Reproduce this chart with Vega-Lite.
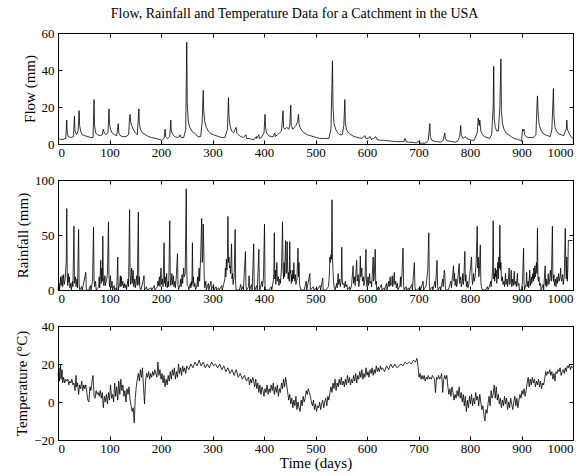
{
"$schema": "https://vega.github.io/schema/vega-lite/v6.json",
"autosize": {"type": "pad"},
"padding": {"left": 14, "top": 6, "right": 14, "bottom": 5},
"background": "white",
"bounds": "flush",
"spacing": 36,
"title": {"text": "Flow, Rainfall and Temperature Data for a Catchment in the USA", "font": "Liberation Serif", "fontSize": 14, "fontWeight": "normal", "color": "black", "anchor": "middle", "offset": 6},
"config": {
  "view": {"stroke": "black", "strokeWidth": 1},
  "axis": {"grid": false, "domainColor": "black", "domainWidth": 1, "tickColor": "black", "tickSize": -4, "labelPadding": 8, "labelFont": "Liberation Serif", "labelFontSize": 13, "labelColor": "black", "titleFont": "Liberation Serif", "titleFontSize": 15, "titleFontWeight": "normal", "titleColor": "black", "format": "d"}
},
"datasets": {
"flow": [
{"d":0,"v":3},{"d":5,"v":2.5},{"d":10,"v":2.5},{"d":15,"v":3},{"d":17,"v":13},{"d":18,"v":6},{"d":20,"v":4},{"d":25,"v":3.5},{"d":30,"v":4},{"d":32,"v":15},{"d":33,"v":7},{"d":36,"v":5},{"d":39,"v":7},{"d":41,"v":18},{"d":42,"v":10},{"d":44,"v":7},{"d":47,"v":5},{"d":52,"v":4.5},{"d":58,"v":4},{"d":63,"v":3.5},{"d":68,"v":3.5},{"d":70,"v":24},{"d":71,"v":10},{"d":73,"v":6},{"d":77,"v":5},{"d":82,"v":4.5},{"d":86,"v":5},{"d":88,"v":8},{"d":90,"v":6},{"d":93,"v":5},{"d":97,"v":6},{"d":99,"v":19},{"d":100,"v":11},{"d":102,"v":8},{"d":105,"v":6},{"d":110,"v":5},{"d":114,"v":4.5},{"d":117,"v":11},{"d":118,"v":6},{"d":121,"v":4.5},{"d":126,"v":4},{"d":132,"v":4},{"d":137,"v":5},{"d":139,"v":14},{"d":140,"v":16},{"d":141,"v":12},{"d":143,"v":10},{"d":146,"v":8},{"d":150,"v":6},{"d":154,"v":5},{"d":157,"v":19},{"d":158,"v":11},{"d":160,"v":8},{"d":164,"v":6},{"d":170,"v":5},{"d":176,"v":4},{"d":182,"v":3.5},{"d":190,"v":3},{"d":196,"v":2.5},{"d":202,"v":2},{"d":206,"v":3},{"d":208,"v":8},{"d":209,"v":4},{"d":213,"v":3},{"d":217,"v":4},{"d":219,"v":13},{"d":220,"v":7},{"d":223,"v":5},{"d":227,"v":4},{"d":232,"v":3.5},{"d":236,"v":4},{"d":237,"v":5},{"d":239,"v":3.5},{"d":244,"v":3.5},{"d":248,"v":8},{"d":250,"v":55},{"d":251,"v":22},{"d":253,"v":12},{"d":256,"v":9},{"d":260,"v":7},{"d":263,"v":6},{"d":265,"v":6},{"d":268,"v":5},{"d":272,"v":4},{"d":277,"v":4},{"d":280,"v":12},{"d":282,"v":29},{"d":283,"v":18},{"d":285,"v":12},{"d":288,"v":9},{"d":292,"v":7},{"d":297,"v":5.5},{"d":302,"v":5},{"d":307,"v":4.5},{"d":312,"v":4},{"d":318,"v":3.5},{"d":324,"v":3.5},{"d":329,"v":8},{"d":331,"v":25},{"d":332,"v":15},{"d":334,"v":10},{"d":337,"v":7},{"d":341,"v":6},{"d":346,"v":9},{"d":347,"v":6},{"d":350,"v":5},{"d":355,"v":4},{"d":360,"v":3.5},{"d":365,"v":5},{"d":366,"v":3},{"d":371,"v":3},{"d":376,"v":2.5},{"d":381,"v":2.5},{"d":385,"v":4},{"d":386,"v":3},{"d":390,"v":5},{"d":391,"v":3},{"d":395,"v":3.5},{"d":400,"v":6},{"d":402,"v":16},{"d":403,"v":9},{"d":405,"v":6},{"d":409,"v":4.5},{"d":414,"v":4},{"d":418,"v":4},{"d":421,"v":6},{"d":422,"v":4},{"d":426,"v":5},{"d":430,"v":6},{"d":434,"v":7},{"d":437,"v":18},{"d":438,"v":9},{"d":440,"v":8},{"d":444,"v":9},{"d":448,"v":8},{"d":450,"v":10},{"d":452,"v":21},{"d":453,"v":10},{"d":456,"v":8},{"d":459,"v":9},{"d":462,"v":10},{"d":465,"v":12},{"d":467,"v":16},{"d":468,"v":11},{"d":470,"v":9},{"d":474,"v":7},{"d":478,"v":6},{"d":484,"v":5},{"d":490,"v":4.5},{"d":496,"v":4},{"d":502,"v":3.5},{"d":508,"v":3},{"d":514,"v":3},{"d":520,"v":3},{"d":526,"v":3},{"d":530,"v":8},{"d":533,"v":45},{"d":534,"v":20},{"d":536,"v":11},{"d":539,"v":8},{"d":543,"v":6},{"d":547,"v":5},{"d":552,"v":5},{"d":555,"v":10},{"d":557,"v":24},{"d":558,"v":12},{"d":560,"v":8},{"d":564,"v":6},{"d":569,"v":5},{"d":575,"v":4},{"d":582,"v":3.5},{"d":590,"v":3},{"d":594,"v":4},{"d":596,"v":4.5},{"d":598,"v":3},{"d":602,"v":3},{"d":606,"v":4},{"d":608,"v":2.5},{"d":613,"v":3},{"d":617,"v":4},{"d":619,"v":2.5},{"d":625,"v":2},{"d":632,"v":2},{"d":640,"v":1.8},{"d":648,"v":1.5},{"d":656,"v":1.3},{"d":664,"v":1.2},{"d":672,"v":1.5},{"d":674,"v":3},{"d":676,"v":1.2},{"d":682,"v":1},{"d":690,"v":0.8},{"d":696,"v":0.6},{"d":700,"v":1.5},{"d":702,"v":0.5},{"d":708,"v":0.4},{"d":714,"v":0.5},{"d":719,"v":2},{"d":722,"v":11},{"d":723,"v":4},{"d":726,"v":2},{"d":731,"v":1.5},{"d":737,"v":1.2},{"d":743,"v":1},{"d":748,"v":2},{"d":751,"v":6},{"d":752,"v":3},{"d":755,"v":1.8},{"d":760,"v":1.5},{"d":766,"v":1.2},{"d":771,"v":1},{"d":776,"v":1.5},{"d":780,"v":4},{"d":782,"v":10},{"d":783,"v":5},{"d":786,"v":3},{"d":789,"v":3.5},{"d":791,"v":4},{"d":794,"v":3},{"d":798,"v":2.5},{"d":803,"v":2},{"d":808,"v":2},{"d":814,"v":6},{"d":816,"v":14},{"d":818,"v":10},{"d":819,"v":13},{"d":821,"v":7},{"d":824,"v":5},{"d":828,"v":4},{"d":833,"v":3.5},{"d":838,"v":3},{"d":842,"v":5},{"d":845,"v":20},{"d":846,"v":42},{"d":847,"v":14},{"d":849,"v":9},{"d":852,"v":7},{"d":855,"v":7},{"d":858,"v":20},{"d":860,"v":46},{"d":861,"v":18},{"d":863,"v":11},{"d":866,"v":8},{"d":870,"v":6},{"d":875,"v":5},{"d":880,"v":4},{"d":886,"v":3},{"d":892,"v":2.5},{"d":898,"v":2},{"d":900,"v":1.5},{"d":902,"v":8},{"d":903,"v":7},{"d":905,"v":8},{"d":906,"v":5},{"d":909,"v":4},{"d":913,"v":3.5},{"d":918,"v":3.5},{"d":923,"v":3.5},{"d":928,"v":5},{"d":930,"v":20},{"d":931,"v":26},{"d":932,"v":18},{"d":934,"v":11},{"d":937,"v":8},{"d":941,"v":6},{"d":946,"v":5},{"d":951,"v":4.5},{"d":956,"v":4},{"d":959,"v":8},{"d":962,"v":30},{"d":963,"v":15},{"d":965,"v":9},{"d":968,"v":7},{"d":972,"v":5.5},{"d":977,"v":5},{"d":982,"v":4.5},{"d":985,"v":7},{"d":987,"v":8},{"d":988,"v":13},{"d":989,"v":8},{"d":992,"v":6},{"d":996,"v":4},{"d":1000,"v":3}
],
"rain": [
{"d":0,"v":0},{"d":2,"v":6},{"d":3,"v":0},{"d":5,"v":12},{"d":6,"v":4},{"d":8,"v":13},{"d":9,"v":3},{"d":11,"v":14},{"d":12,"v":5},{"d":14,"v":10},{"d":16,"v":26},{"d":17,"v":74},{"d":18,"v":12},{"d":19,"v":4},{"d":20,"v":15},{"d":21,"v":7},{"d":22,"v":12},{"d":23,"v":2},{"d":25,"v":6},{"d":26,"v":0},{"d":28,"v":8},{"d":29,"v":3},{"d":31,"v":58},{"d":32,"v":6},{"d":34,"v":12},{"d":35,"v":3},{"d":37,"v":10},{"d":38,"v":2},{"d":40,"v":55},{"d":41,"v":6},{"d":42,"v":0},{"d":46,"v":3},{"d":47,"v":0},{"d":54,"v":16},{"d":55,"v":0},{"d":60,"v":0},{"d":63,"v":4},{"d":64,"v":0},{"d":67,"v":8},{"d":69,"v":57},{"d":70,"v":10},{"d":71,"v":3},{"d":73,"v":8},{"d":74,"v":0},{"d":79,"v":3},{"d":80,"v":12},{"d":81,"v":2},{"d":83,"v":27},{"d":84,"v":6},{"d":85,"v":20},{"d":86,"v":8},{"d":87,"v":49},{"d":88,"v":12},{"d":89,"v":4},{"d":91,"v":13},{"d":92,"v":4},{"d":94,"v":9},{"d":96,"v":14},{"d":98,"v":62},{"d":99,"v":12},{"d":100,"v":3},{"d":102,"v":13},{"d":103,"v":2},{"d":105,"v":8},{"d":106,"v":0},{"d":109,"v":4},{"d":110,"v":0},{"d":113,"v":2},{"d":114,"v":0},{"d":116,"v":30},{"d":117,"v":0},{"d":120,"v":6},{"d":121,"v":13},{"d":122,"v":3},{"d":123,"v":12},{"d":124,"v":4},{"d":126,"v":8},{"d":127,"v":2},{"d":129,"v":6},{"d":130,"v":2},{"d":132,"v":5},{"d":133,"v":0},{"d":136,"v":10},{"d":137,"v":3},{"d":139,"v":73},{"d":140,"v":14},{"d":141,"v":5},{"d":143,"v":20},{"d":144,"v":6},{"d":146,"v":18},{"d":147,"v":3},{"d":149,"v":10},{"d":150,"v":2},{"d":153,"v":13},{"d":154,"v":4},{"d":156,"v":71},{"d":157,"v":5},{"d":158,"v":12},{"d":159,"v":2},{"d":161,"v":0},{"d":165,"v":8},{"d":167,"v":13},{"d":168,"v":0},{"d":172,"v":3},{"d":173,"v":0},{"d":181,"v":2},{"d":182,"v":0},{"d":187,"v":4},{"d":188,"v":0},{"d":193,"v":3},{"d":194,"v":8},{"d":195,"v":4},{"d":197,"v":12},{"d":198,"v":3},{"d":200,"v":20},{"d":201,"v":5},{"d":203,"v":10},{"d":204,"v":3},{"d":206,"v":43},{"d":207,"v":6},{"d":208,"v":12},{"d":209,"v":3},{"d":211,"v":15},{"d":212,"v":2},{"d":214,"v":8},{"d":215,"v":3},{"d":217,"v":63},{"d":218,"v":12},{"d":219,"v":4},{"d":221,"v":15},{"d":222,"v":5},{"d":224,"v":13},{"d":225,"v":3},{"d":227,"v":8},{"d":228,"v":2},{"d":230,"v":14},{"d":232,"v":33},{"d":233,"v":5},{"d":234,"v":0},{"d":237,"v":5},{"d":238,"v":10},{"d":239,"v":3},{"d":241,"v":14},{"d":242,"v":6},{"d":244,"v":20},{"d":245,"v":12},{"d":247,"v":15},{"d":249,"v":92},{"d":250,"v":20},{"d":251,"v":4},{"d":253,"v":3},{"d":254,"v":0},{"d":257,"v":6},{"d":258,"v":2},{"d":259,"v":8},{"d":260,"v":4},{"d":261,"v":43},{"d":262,"v":6},{"d":263,"v":12},{"d":264,"v":3},{"d":266,"v":6},{"d":267,"v":0},{"d":270,"v":5},{"d":271,"v":12},{"d":272,"v":3},{"d":274,"v":20},{"d":275,"v":8},{"d":277,"v":30},{"d":279,"v":65},{"d":280,"v":25},{"d":281,"v":30},{"d":282,"v":60},{"d":283,"v":40},{"d":284,"v":10},{"d":285,"v":2},{"d":287,"v":8},{"d":288,"v":0},{"d":292,"v":6},{"d":293,"v":0},{"d":297,"v":8},{"d":298,"v":0},{"d":302,"v":5},{"d":303,"v":0},{"d":307,"v":3},{"d":308,"v":0},{"d":312,"v":2},{"d":313,"v":0},{"d":318,"v":4},{"d":319,"v":0},{"d":324,"v":10},{"d":325,"v":20},{"d":326,"v":12},{"d":327,"v":28},{"d":328,"v":18},{"d":329,"v":30},{"d":330,"v":67},{"d":331,"v":25},{"d":332,"v":30},{"d":333,"v":20},{"d":334,"v":22},{"d":335,"v":15},{"d":336,"v":28},{"d":337,"v":42},{"d":338,"v":10},{"d":339,"v":15},{"d":340,"v":5},{"d":342,"v":12},{"d":344,"v":55},{"d":345,"v":4},{"d":346,"v":0},{"d":352,"v":0},{"d":355,"v":5},{"d":356,"v":0},{"d":359,"v":3},{"d":360,"v":0},{"d":364,"v":35},{"d":365,"v":3},{"d":366,"v":0},{"d":370,"v":3},{"d":371,"v":13},{"d":372,"v":0},{"d":376,"v":5},{"d":377,"v":0},{"d":380,"v":42},{"d":381,"v":5},{"d":382,"v":0},{"d":386,"v":4},{"d":387,"v":0},{"d":390,"v":37},{"d":391,"v":5},{"d":392,"v":0},{"d":396,"v":8},{"d":397,"v":3},{"d":399,"v":12},{"d":401,"v":60},{"d":402,"v":4},{"d":403,"v":0},{"d":410,"v":0},{"d":414,"v":3},{"d":415,"v":0},{"d":418,"v":8},{"d":419,"v":15},{"d":420,"v":52},{"d":421,"v":10},{"d":422,"v":18},{"d":423,"v":5},{"d":425,"v":25},{"d":426,"v":8},{"d":428,"v":12},{"d":429,"v":4},{"d":431,"v":10},{"d":432,"v":6},{"d":434,"v":20},{"d":436,"v":62},{"d":437,"v":18},{"d":438,"v":10},{"d":439,"v":25},{"d":440,"v":12},{"d":441,"v":30},{"d":442,"v":45},{"d":443,"v":15},{"d":444,"v":20},{"d":445,"v":44},{"d":446,"v":18},{"d":447,"v":10},{"d":448,"v":16},{"d":449,"v":8},{"d":450,"v":44},{"d":451,"v":15},{"d":452,"v":18},{"d":453,"v":6},{"d":454,"v":14},{"d":455,"v":8},{"d":456,"v":18},{"d":457,"v":10},{"d":458,"v":25},{"d":459,"v":12},{"d":460,"v":8},{"d":461,"v":14},{"d":462,"v":5},{"d":464,"v":10},{"d":466,"v":38},{"d":467,"v":12},{"d":468,"v":25},{"d":469,"v":5},{"d":470,"v":3},{"d":472,"v":0},{"d":478,"v":0},{"d":482,"v":8},{"d":483,"v":0},{"d":489,"v":15},{"d":490,"v":0},{"d":496,"v":3},{"d":497,"v":0},{"d":502,"v":2},{"d":503,"v":0},{"d":509,"v":4},{"d":510,"v":0},{"d":514,"v":11},{"d":515,"v":0},{"d":520,"v":0},{"d":525,"v":3},{"d":526,"v":8},{"d":527,"v":15},{"d":528,"v":30},{"d":529,"v":25},{"d":530,"v":32},{"d":531,"v":28},{"d":532,"v":82},{"d":533,"v":30},{"d":534,"v":18},{"d":535,"v":8},{"d":536,"v":3},{"d":538,"v":0},{"d":541,"v":6},{"d":542,"v":2},{"d":544,"v":15},{"d":545,"v":5},{"d":547,"v":10},{"d":548,"v":3},{"d":550,"v":8},{"d":551,"v":39},{"d":552,"v":8},{"d":553,"v":5},{"d":555,"v":6},{"d":556,"v":2},{"d":558,"v":8},{"d":559,"v":3},{"d":561,"v":5},{"d":562,"v":0},{"d":566,"v":3},{"d":567,"v":0},{"d":570,"v":4},{"d":571,"v":10},{"d":573,"v":22},{"d":574,"v":6},{"d":576,"v":12},{"d":577,"v":4},{"d":580,"v":27},{"d":581,"v":8},{"d":583,"v":14},{"d":584,"v":3},{"d":586,"v":10},{"d":587,"v":31},{"d":588,"v":12},{"d":590,"v":20},{"d":591,"v":8},{"d":593,"v":12},{"d":594,"v":4},{"d":596,"v":10},{"d":598,"v":37},{"d":599,"v":6},{"d":600,"v":3},{"d":602,"v":12},{"d":603,"v":4},{"d":605,"v":15},{"d":606,"v":6},{"d":608,"v":8},{"d":609,"v":3},{"d":611,"v":20},{"d":612,"v":30},{"d":613,"v":8},{"d":614,"v":12},{"d":616,"v":37},{"d":617,"v":5},{"d":618,"v":8},{"d":619,"v":0},{"d":622,"v":3},{"d":623,"v":0},{"d":628,"v":5},{"d":629,"v":0},{"d":633,"v":2},{"d":634,"v":0},{"d":638,"v":6},{"d":639,"v":0},{"d":642,"v":8},{"d":643,"v":3},{"d":645,"v":12},{"d":646,"v":4},{"d":648,"v":6},{"d":649,"v":13},{"d":650,"v":3},{"d":652,"v":10},{"d":653,"v":16},{"d":654,"v":5},{"d":656,"v":8},{"d":657,"v":2},{"d":659,"v":6},{"d":660,"v":0},{"d":664,"v":4},{"d":665,"v":12},{"d":666,"v":3},{"d":668,"v":16},{"d":670,"v":38},{"d":671,"v":4},{"d":672,"v":0},{"d":676,"v":3},{"d":677,"v":0},{"d":681,"v":2},{"d":682,"v":0},{"d":687,"v":5},{"d":688,"v":0},{"d":692,"v":25},{"d":693,"v":3},{"d":694,"v":0},{"d":698,"v":0},{"d":703,"v":3},{"d":704,"v":0},{"d":709,"v":8},{"d":710,"v":0},{"d":715,"v":4},{"d":716,"v":10},{"d":718,"v":18},{"d":720,"v":52},{"d":721,"v":6},{"d":722,"v":0},{"d":727,"v":3},{"d":728,"v":0},{"d":732,"v":8},{"d":733,"v":2},{"d":736,"v":27},{"d":737,"v":4},{"d":738,"v":0},{"d":742,"v":3},{"d":743,"v":0},{"d":747,"v":10},{"d":748,"v":3},{"d":750,"v":18},{"d":751,"v":15},{"d":752,"v":4},{"d":753,"v":0},{"d":758,"v":0},{"d":763,"v":8},{"d":764,"v":2},{"d":766,"v":12},{"d":768,"v":22},{"d":769,"v":8},{"d":770,"v":15},{"d":771,"v":4},{"d":773,"v":10},{"d":774,"v":3},{"d":776,"v":8},{"d":777,"v":14},{"d":779,"v":24},{"d":780,"v":6},{"d":782,"v":12},{"d":783,"v":3},{"d":785,"v":8},{"d":786,"v":15},{"d":787,"v":5},{"d":788,"v":10},{"d":790,"v":35},{"d":791,"v":8},{"d":792,"v":14},{"d":793,"v":3},{"d":795,"v":8},{"d":796,"v":2},{"d":798,"v":6},{"d":799,"v":12},{"d":801,"v":20},{"d":803,"v":30},{"d":804,"v":10},{"d":805,"v":5},{"d":807,"v":15},{"d":808,"v":8},{"d":810,"v":12},{"d":811,"v":20},{"d":812,"v":25},{"d":814,"v":58},{"d":815,"v":20},{"d":816,"v":30},{"d":817,"v":12},{"d":818,"v":15},{"d":820,"v":41},{"d":821,"v":8},{"d":822,"v":3},{"d":824,"v":0},{"d":830,"v":0},{"d":834,"v":3},{"d":835,"v":0},{"d":839,"v":5},{"d":840,"v":8},{"d":841,"v":3},{"d":843,"v":12},{"d":844,"v":20},{"d":845,"v":63},{"d":846,"v":10},{"d":847,"v":15},{"d":848,"v":8},{"d":849,"v":20},{"d":850,"v":12},{"d":851,"v":18},{"d":852,"v":6},{"d":853,"v":15},{"d":854,"v":25},{"d":855,"v":10},{"d":856,"v":30},{"d":857,"v":20},{"d":858,"v":59},{"d":859,"v":18},{"d":860,"v":25},{"d":861,"v":10},{"d":862,"v":8},{"d":863,"v":12},{"d":864,"v":5},{"d":866,"v":8},{"d":867,"v":3},{"d":869,"v":15},{"d":870,"v":5},{"d":872,"v":10},{"d":873,"v":3},{"d":875,"v":12},{"d":876,"v":20},{"d":877,"v":5},{"d":879,"v":8},{"d":880,"v":18},{"d":881,"v":3},{"d":883,"v":10},{"d":884,"v":4},{"d":886,"v":17},{"d":887,"v":5},{"d":889,"v":8},{"d":890,"v":3},{"d":892,"v":15},{"d":893,"v":4},{"d":895,"v":6},{"d":896,"v":0},{"d":900,"v":0},{"d":902,"v":8},{"d":904,"v":38},{"d":905,"v":5},{"d":906,"v":0},{"d":909,"v":6},{"d":910,"v":16},{"d":911,"v":3},{"d":913,"v":8},{"d":914,"v":2},{"d":916,"v":18},{"d":917,"v":4},{"d":919,"v":12},{"d":920,"v":6},{"d":922,"v":15},{"d":923,"v":8},{"d":924,"v":20},{"d":925,"v":10},{"d":926,"v":22},{"d":927,"v":12},{"d":928,"v":18},{"d":929,"v":25},{"d":930,"v":15},{"d":931,"v":56},{"d":932,"v":10},{"d":933,"v":8},{"d":934,"v":12},{"d":935,"v":4},{"d":937,"v":6},{"d":938,"v":0},{"d":942,"v":5},{"d":943,"v":0},{"d":946,"v":22},{"d":947,"v":4},{"d":948,"v":10},{"d":949,"v":3},{"d":951,"v":8},{"d":952,"v":15},{"d":953,"v":5},{"d":955,"v":10},{"d":956,"v":18},{"d":958,"v":8},{"d":960,"v":58},{"d":961,"v":12},{"d":962,"v":8},{"d":963,"v":14},{"d":964,"v":4},{"d":966,"v":10},{"d":967,"v":3},{"d":969,"v":12},{"d":970,"v":6},{"d":972,"v":15},{"d":973,"v":8},{"d":975,"v":12},{"d":976,"v":20},{"d":977,"v":10},{"d":978,"v":8},{"d":980,"v":14},{"d":981,"v":5},{"d":983,"v":12},{"d":985,"v":56},{"d":986,"v":20},{"d":987,"v":10},{"d":988,"v":30},{"d":989,"v":8},{"d":990,"v":20},{"d":991,"v":45},{"d":999,"v":45},{"d":1000,"v":45}
],
"temp": [
{"d":0,"v":14},{"d":2,"v":18},{"d":3,"v":11},{"d":5,"v":20},{"d":6,"v":12},{"d":8,"v":17},{"d":9,"v":10},{"d":11,"v":13},{"d":13,"v":10},{"d":15,"v":12},{"d":17,"v":11},{"d":19,"v":12},{"d":21,"v":9},{"d":23,"v":11},{"d":25,"v":10},{"d":27,"v":12},{"d":29,"v":9},{"d":31,"v":10},{"d":33,"v":6},{"d":35,"v":14},{"d":36,"v":8},{"d":38,"v":10},{"d":40,"v":4},{"d":42,"v":9},{"d":44,"v":7},{"d":46,"v":11},{"d":48,"v":6},{"d":50,"v":9},{"d":52,"v":7},{"d":54,"v":9},{"d":56,"v":5},{"d":58,"v":1},{"d":60,"v":0},{"d":62,"v":8},{"d":64,"v":6},{"d":66,"v":11},{"d":68,"v":14},{"d":70,"v":3},{"d":72,"v":2},{"d":74,"v":6},{"d":76,"v":4},{"d":78,"v":5},{"d":80,"v":3},{"d":82,"v":6},{"d":84,"v":2},{"d":86,"v":5},{"d":88,"v":-3},{"d":90,"v":3},{"d":92,"v":0},{"d":94,"v":4},{"d":96,"v":-1},{"d":98,"v":5},{"d":100,"v":1},{"d":102,"v":9},{"d":104,"v":2},{"d":106,"v":4},{"d":108,"v":0},{"d":110,"v":10},{"d":112,"v":3},{"d":114,"v":8},{"d":116,"v":1},{"d":118,"v":11},{"d":120,"v":4},{"d":122,"v":12},{"d":124,"v":6},{"d":126,"v":9},{"d":128,"v":3},{"d":130,"v":6},{"d":132,"v":0},{"d":134,"v":7},{"d":136,"v":4},{"d":138,"v":8},{"d":140,"v":1},{"d":142,"v":-2},{"d":144,"v":-5},{"d":146,"v":-3},{"d":148,"v":-11},{"d":150,"v":2},{"d":152,"v":8},{"d":154,"v":12},{"d":156,"v":15},{"d":158,"v":11},{"d":160,"v":17},{"d":162,"v":13},{"d":164,"v":18},{"d":166,"v":8},{"d":168,"v":-1},{"d":170,"v":11},{"d":172,"v":15},{"d":174,"v":13},{"d":176,"v":16},{"d":178,"v":12},{"d":180,"v":15},{"d":182,"v":13},{"d":184,"v":16},{"d":186,"v":14},{"d":188,"v":17},{"d":190,"v":15},{"d":192,"v":13},{"d":194,"v":21},{"d":196,"v":14},{"d":198,"v":17},{"d":200,"v":12},{"d":202,"v":15},{"d":204,"v":10},{"d":206,"v":14},{"d":208,"v":8},{"d":210,"v":12},{"d":212,"v":9},{"d":214,"v":14},{"d":216,"v":11},{"d":218,"v":16},{"d":220,"v":12},{"d":222,"v":17},{"d":224,"v":14},{"d":226,"v":18},{"d":228,"v":12},{"d":230,"v":16},{"d":232,"v":13},{"d":234,"v":20},{"d":236,"v":15},{"d":238,"v":18},{"d":240,"v":14},{"d":242,"v":19},{"d":244,"v":16},{"d":246,"v":18},{"d":248,"v":15},{"d":250,"v":19},{"d":254,"v":17},{"d":258,"v":20},{"d":262,"v":18},{"d":266,"v":21},{"d":270,"v":19},{"d":274,"v":22},{"d":278,"v":19},{"d":282,"v":21},{"d":286,"v":18},{"d":290,"v":20},{"d":294,"v":18},{"d":298,"v":21},{"d":302,"v":19},{"d":306,"v":20},{"d":310,"v":18},{"d":314,"v":20},{"d":318,"v":17},{"d":322,"v":19},{"d":326,"v":16},{"d":330,"v":18},{"d":334,"v":15},{"d":338,"v":17},{"d":342,"v":14},{"d":346,"v":17},{"d":350,"v":13},{"d":354,"v":15},{"d":358,"v":12},{"d":362,"v":14},{"d":366,"v":11},{"d":370,"v":13},{"d":372,"v":9},{"d":374,"v":12},{"d":376,"v":10},{"d":378,"v":13},{"d":380,"v":11},{"d":382,"v":8},{"d":384,"v":12},{"d":386,"v":7},{"d":388,"v":10},{"d":390,"v":5},{"d":392,"v":9},{"d":394,"v":4},{"d":396,"v":8},{"d":398,"v":6},{"d":400,"v":3},{"d":402,"v":7},{"d":404,"v":5},{"d":406,"v":9},{"d":408,"v":4},{"d":410,"v":7},{"d":412,"v":5},{"d":414,"v":9},{"d":416,"v":6},{"d":418,"v":10},{"d":420,"v":4},{"d":422,"v":8},{"d":424,"v":5},{"d":426,"v":9},{"d":428,"v":3},{"d":430,"v":7},{"d":432,"v":5},{"d":434,"v":10},{"d":436,"v":7},{"d":438,"v":12},{"d":440,"v":8},{"d":442,"v":13},{"d":444,"v":9},{"d":446,"v":5},{"d":448,"v":1},{"d":450,"v":4},{"d":452,"v":-1},{"d":454,"v":2},{"d":456,"v":-3},{"d":458,"v":1},{"d":460,"v":-2},{"d":462,"v":3},{"d":464,"v":-4},{"d":466,"v":0},{"d":468,"v":-3},{"d":470,"v":-5},{"d":472,"v":1},{"d":474,"v":-2},{"d":476,"v":3},{"d":478,"v":0},{"d":480,"v":2},{"d":482,"v":6},{"d":484,"v":4},{"d":486,"v":7},{"d":488,"v":5},{"d":490,"v":3},{"d":492,"v":0},{"d":494,"v":-2},{"d":496,"v":1},{"d":498,"v":-4},{"d":500,"v":-1},{"d":502,"v":-5},{"d":504,"v":-2},{"d":506,"v":-3},{"d":508,"v":0},{"d":510,"v":-4},{"d":512,"v":-1},{"d":514,"v":1},{"d":516,"v":-3},{"d":518,"v":0},{"d":520,"v":2},{"d":522,"v":-2},{"d":524,"v":3},{"d":526,"v":1},{"d":528,"v":5},{"d":530,"v":8},{"d":532,"v":5},{"d":534,"v":10},{"d":536,"v":7},{"d":538,"v":12},{"d":540,"v":6},{"d":542,"v":10},{"d":544,"v":8},{"d":546,"v":12},{"d":548,"v":9},{"d":550,"v":13},{"d":552,"v":9},{"d":554,"v":11},{"d":556,"v":8},{"d":558,"v":12},{"d":560,"v":9},{"d":562,"v":14},{"d":564,"v":10},{"d":566,"v":13},{"d":568,"v":9},{"d":570,"v":12},{"d":572,"v":10},{"d":574,"v":14},{"d":576,"v":11},{"d":578,"v":15},{"d":580,"v":10},{"d":582,"v":14},{"d":584,"v":12},{"d":586,"v":16},{"d":588,"v":13},{"d":590,"v":17},{"d":592,"v":12},{"d":594,"v":15},{"d":596,"v":13},{"d":598,"v":18},{"d":600,"v":14},{"d":602,"v":16},{"d":604,"v":13},{"d":606,"v":17},{"d":608,"v":15},{"d":610,"v":18},{"d":612,"v":14},{"d":614,"v":17},{"d":616,"v":15},{"d":618,"v":19},{"d":620,"v":16},{"d":622,"v":18},{"d":624,"v":16},{"d":626,"v":19},{"d":628,"v":17},{"d":630,"v":18},{"d":634,"v":16},{"d":638,"v":19},{"d":642,"v":17},{"d":646,"v":20},{"d":650,"v":18},{"d":654,"v":20},{"d":658,"v":18},{"d":662,"v":19},{"d":666,"v":20},{"d":670,"v":19},{"d":674,"v":21},{"d":678,"v":20},{"d":682,"v":21},{"d":686,"v":20},{"d":690,"v":22},{"d":694,"v":21},{"d":697,"v":23},{"d":699,"v":19},{"d":701,"v":13},{"d":703,"v":15},{"d":705,"v":12},{"d":707,"v":14},{"d":709,"v":12},{"d":711,"v":14},{"d":713,"v":11},{"d":715,"v":13},{"d":717,"v":12},{"d":719,"v":14},{"d":721,"v":12},{"d":723,"v":13},{"d":725,"v":12},{"d":727,"v":14},{"d":729,"v":13},{"d":731,"v":12},{"d":733,"v":5},{"d":735,"v":13},{"d":737,"v":12},{"d":739,"v":14},{"d":741,"v":12},{"d":743,"v":13},{"d":745,"v":15},{"d":747,"v":5},{"d":749,"v":12},{"d":751,"v":14},{"d":753,"v":12},{"d":755,"v":14},{"d":757,"v":8},{"d":759,"v":4},{"d":761,"v":7},{"d":763,"v":3},{"d":765,"v":8},{"d":767,"v":5},{"d":769,"v":1},{"d":771,"v":4},{"d":773,"v":2},{"d":775,"v":6},{"d":777,"v":3},{"d":779,"v":8},{"d":781,"v":2},{"d":783,"v":5},{"d":785,"v":0},{"d":787,"v":4},{"d":789,"v":-2},{"d":791,"v":3},{"d":793,"v":-5},{"d":795,"v":1},{"d":797,"v":-3},{"d":799,"v":3},{"d":801,"v":-1},{"d":803,"v":4},{"d":805,"v":-2},{"d":807,"v":2},{"d":809,"v":-1},{"d":811,"v":5},{"d":813,"v":1},{"d":815,"v":3},{"d":817,"v":-2},{"d":819,"v":4},{"d":821,"v":0},{"d":823,"v":-4},{"d":825,"v":-2},{"d":827,"v":-7},{"d":829,"v":-10},{"d":831,"v":-4},{"d":833,"v":-6},{"d":835,"v":-1},{"d":837,"v":3},{"d":839,"v":-2},{"d":841,"v":6},{"d":843,"v":2},{"d":845,"v":4},{"d":847,"v":9},{"d":849,"v":2},{"d":851,"v":8},{"d":853,"v":1},{"d":855,"v":4},{"d":857,"v":-1},{"d":859,"v":2},{"d":861,"v":-3},{"d":863,"v":1},{"d":865,"v":-2},{"d":867,"v":3},{"d":869,"v":-1},{"d":871,"v":2},{"d":873,"v":-4},{"d":875,"v":0},{"d":877,"v":-3},{"d":879,"v":2},{"d":881,"v":-1},{"d":883,"v":-4},{"d":885,"v":0},{"d":887,"v":3},{"d":889,"v":-2},{"d":891,"v":2},{"d":893,"v":-3},{"d":895,"v":1},{"d":897,"v":4},{"d":899,"v":2},{"d":901,"v":6},{"d":903,"v":4},{"d":905,"v":7},{"d":907,"v":3},{"d":909,"v":6},{"d":911,"v":10},{"d":913,"v":13},{"d":915,"v":8},{"d":917,"v":12},{"d":919,"v":9},{"d":921,"v":13},{"d":923,"v":10},{"d":925,"v":12},{"d":927,"v":8},{"d":929,"v":11},{"d":931,"v":9},{"d":933,"v":12},{"d":935,"v":8},{"d":937,"v":11},{"d":939,"v":7},{"d":941,"v":10},{"d":943,"v":9},{"d":945,"v":12},{"d":947,"v":16},{"d":949,"v":14},{"d":951,"v":16},{"d":953,"v":15},{"d":955,"v":17},{"d":957,"v":14},{"d":959,"v":16},{"d":961,"v":12},{"d":963,"v":15},{"d":965,"v":11},{"d":967,"v":16},{"d":969,"v":15},{"d":971,"v":17},{"d":973,"v":16},{"d":975,"v":18},{"d":977,"v":14},{"d":979,"v":16},{"d":981,"v":17},{"d":983,"v":15},{"d":985,"v":18},{"d":987,"v":16},{"d":989,"v":19},{"d":991,"v":18},{"d":993,"v":20},{"d":995,"v":17},{"d":997,"v":19},{"d":999,"v":18}
]
},
"vconcat": [
{
 "width": 515, "height": 111,
 "data": {"name": "flow"},
 "layer": [
  {"mark": {"type": "line", "color": "black", "strokeWidth": 0.8},
   "encoding": {
    "x": {"field": "d", "type": "quantitative", "scale": {"domain": [0, 1000], "nice": false}, "axis": {"values": [0,100,200,300,400,500,600,700,800,900,1000], "title": null, "labelPadding": 6}},
    "y": {"field": "v", "type": "quantitative", "scale": {"domain": [0, 60], "nice": false}, "axis": {"values": [0,20,40,60], "title": "Flow (mm)"}}}},
  {"mark": {"type": "line", "opacity": 0},
   "encoding": {
    "x": {"field": "d", "type": "quantitative", "axis": {"orient": "top", "labels": false, "values": [0,100,200,300,400,500,600,700,800,900,1000], "title": null}},
    "y": {"field": "v", "type": "quantitative", "axis": {"orient": "right", "labels": false, "values": [0,20,40,60], "title": null}}}}
 ],
 "resolve": {"axis": {"x": "independent", "y": "independent"}}
},
{
 "width": 515, "height": 110,
 "data": {"name": "rain"},
 "layer": [
  {"mark": {"type": "line", "color": "black", "strokeWidth": 0.8},
   "encoding": {
    "x": {"field": "d", "type": "quantitative", "scale": {"domain": [0, 1000], "nice": false}, "axis": {"values": [0,100,200,300,400,500,600,700,800,900,1000], "title": null, "labelPadding": 6}},
    "y": {"field": "v", "type": "quantitative", "scale": {"domain": [0, 100], "nice": false}, "axis": {"values": [0,50,100], "title": "Rainfall (mm)"}}}},
  {"mark": {"type": "line", "opacity": 0},
   "encoding": {
    "x": {"field": "d", "type": "quantitative", "axis": {"orient": "top", "labels": false, "values": [0,100,200,300,400,500,600,700,800,900,1000], "title": null}},
    "y": {"field": "v", "type": "quantitative", "axis": {"orient": "right", "labels": false, "values": [0,50,100], "title": null}}}}
 ],
 "resolve": {"axis": {"x": "independent", "y": "independent"}}
},
{
 "width": 515, "height": 114,
 "data": {"name": "temp"},
 "layer": [
  {"mark": {"type": "line", "color": "black", "strokeWidth": 0.8},
   "encoding": {
    "x": {"field": "d", "type": "quantitative", "scale": {"domain": [0, 1000], "nice": false}, "axis": {"values": [0,100,200,300,400,500,600,700,800,900,1000], "title": "Time (days)", "titlePadding": 0, "labelPadding": 6}},
    "y": {"field": "v", "type": "quantitative", "scale": {"domain": [-20, 40], "nice": false}, "axis": {"values": [-20,0,20,40], "title": "Temperature (°C)"}}}},
  {"mark": {"type": "line", "opacity": 0},
   "encoding": {
    "x": {"field": "d", "type": "quantitative", "axis": {"orient": "top", "labels": false, "values": [0,100,200,300,400,500,600,700,800,900,1000], "title": null}},
    "y": {"field": "v", "type": "quantitative", "axis": {"orient": "right", "labels": false, "values": [-20,0,20,40], "title": null}}}}
 ],
 "resolve": {"axis": {"x": "independent", "y": "independent"}}
}
]
}
